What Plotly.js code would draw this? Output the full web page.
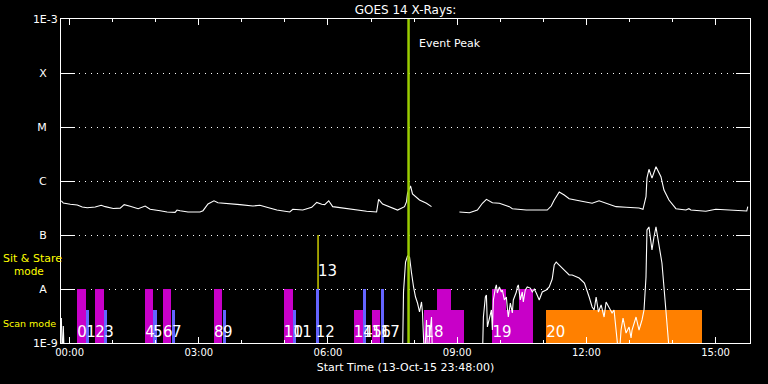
<!DOCTYPE html>
<html><head><meta charset="utf-8">
<script src="https://cdn.plot.ly/plotly-3.0.1.min.js"></script>
<style>html,body{margin:0;padding:0;background:#000;}#chart{width:768px;height:384px;}</style>
</head><body><div id="chart"></div>
<script>
// Times are hours relative to 2015-10-14 00:00 ; fluxes in W/m^2
const longHours = [
 -0.192,-0.146,0.016,0.178,0.294,0.410,0.595,0.734,0.827,1.013,
 1.175,1.267,1.406,1.592,1.754,1.870,2.101,2.264,2.449,2.495,
 2.565,2.750,3.028,3.098,3.214,3.353,3.445,3.654,3.955,4.256,
 4.419,4.581,4.812,5.113,5.183,5.415,5.623,5.739,5.855,5.924,
 6.017,6.109,6.434,6.666,6.897,7.129,7.176,7.268,7.431,7.616,
 7.778,7.824,7.847,7.917,7.963,8.125,8.288,8.404,
 8.700,
 9.052,9.284,9.470,9.586,9.679,9.818,9.980,10.212,10.281,10.606,
 11.092,11.184,11.254,11.370,11.486,11.601,11.833,12.134,12.296,12.458,
 12.690,12.922,13.223,13.315,13.385,13.408,13.454,13.524,13.617,13.732,
 13.802,13.918,14.080,14.312,14.381,14.427,14.775,15.006,15.238,15.539,
 15.725,15.748];
const longFlux = [
 4.3e-7,3.9e-7,3.7e-7,3.6e-7,3.3e-7,3.2e-7,3.3e-7,3.55e-7,3.35e-7,3.1e-7,
 3.15e-7,3.65e-7,3.4e-7,3.07e-7,3.44e-7,2.99e-7,2.82e-7,2.67e-7,2.63e-7,2.9e-7,
 2.82e-7,2.67e-7,2.67e-7,2.82e-7,3.75e-7,4.3e-7,3.96e-7,3.87e-7,3.65e-7,3.44e-7,
 3.55e-7,3.26e-7,2.9e-7,2.67e-7,2.99e-7,2.9e-7,3.26e-7,4.02e-7,3.7e-7,3.65e-7,
 4.3e-7,3.35e-7,3.07e-7,2.9e-7,2.75e-7,2.67e-7,4.58e-7,3.75e-7,3.35e-7,2.9e-7,
 3.35e-7,4.14e-7,5.92e-7,8.08e-7,5.75e-7,4.45e-7,3.87e-7,3.35e-7,
 null,
 2.67e-7,2.59e-7,2.9e-7,3.87e-7,4.58e-7,3.96e-7,3.87e-7,3.35e-7,3.07e-7,2.9e-7,
 2.9e-7,3.44e-7,4.45e-7,6.26e-7,5.5e-7,4.7e-7,4.3e-7,3.87e-7,4.3e-7,3.87e-7,
 3.35e-7,3.26e-7,3.16e-7,2.99e-7,5.12e-7,1.13e-6,1.65e-6,1.13e-6,1.84e-6,1.2e-6,
 6.81e-7,4.45e-7,3.07e-7,2.9e-7,3.07e-7,2.9e-7,2.75e-7,2.99e-7,2.9e-7,2.78e-7,
 2.78e-7,3.35e-7];

const shortHours = [
 -0.192,-0.169,-0.146,-0.123,7.730,7.754,7.801,7.847,7.894,7.917,
 7.940,7.987,8.033,8.079,8.126,8.172,8.195,8.218,8.242,8.288,
 8.311,8.404,8.427,9.586,9.609,9.655,9.679,9.702,9.748,9.795,
 9.818,9.841,9.887,9.910,9.933,9.980,10.026,10.049,10.096,10.142,
 10.165,10.188,10.235,10.281,10.304,10.374,10.397,10.420,10.466,10.512,
 10.536,10.582,10.628,10.698,10.744,10.790,10.837,10.906,10.976,11.068,
 11.138,11.207,11.254,11.300,11.370,11.439,11.532,11.601,11.671,11.833,
 11.955,12.018,12.065,12.134,12.181,12.227,12.280,12.343,12.412,12.458,
 12.528,12.597,12.643,12.690,12.713,12.759,12.806,12.852,12.922,12.992,
 13.038,13.061,13.154,13.223,13.293,13.339,13.385,13.408,13.454,13.501,
 13.524,13.570,13.617,13.640,13.686,13.755,13.802,13.848,13.895,13.941,
 15.772];
const shortFlux = [
 2.9e-9,5e-10,2.06e-9,5e-10,5e-10,8.8e-9,3.16e-8,4.09e-8,3.91e-8,2.56e-8,
 1.98e-8,1.09e-8,7.1e-9,5.5e-9,3.75e-9,5.75e-9,3.6e-9,1.29e-9,5e-10,2.67e-9,
 5e-10,3.03e-9,5e-10,5e-10,3.03e-9,7.1e-9,7.74e-9,1.98e-9,3.03e-9,4.09e-9,
 1.74e-9,6.26e-9,1.04e-8,1.19e-8,8.43e-9,1.09e-8,8.8e-9,9.58e-9,6.26e-9,7.1e-9,
 4.45e-9,3.03e-9,5.5e-9,3.6e-9,6.26e-9,8.8e-9,1.09e-8,1.19e-8,6.26e-9,8.8e-9,
 5.75e-9,9.58e-9,1.09e-8,1.04e-8,8.8e-9,1e-8,8.43e-9,6.26e-9,8.8e-9,9.58e-9,
 1.09e-8,1.53e-8,2.78e-8,3.16e-8,2.78e-8,2.45e-8,2.06e-8,1.82e-8,1.82e-8,1.6e-8,
 1.29e-8,9.58e-9,7.1e-9,4.64e-9,4.09e-9,7.1e-9,3.75e-9,5.06e-9,3.03e-9,5.75e-9,
 4.45e-9,3.6e-9,4.09e-9,1.98e-9,1.41e-9,5e-10,1.74e-9,2.9e-9,1.53e-9,1.98e-9,
 1.24e-9,1.74e-9,3.03e-9,1.74e-9,2.67e-9,4.09e-9,1.67e-8,1.24e-7,1.41e-7,8.08e-8,
 5.28e-8,9.18e-8,1.41e-7,1.09e-7,6.0e-8,3.03e-8,1.09e-8,4.09e-9,1.74e-9,5e-10,
 5e-10];

// Observation blocks (m = scan, b = blue, o = orange)
const obsStart = [0.178,0.387,0.595,0.804,1.754,1.939,2.171,2.379,3.353,3.561,
                  4.975,5.183,5.717,6.596,6.805,7.013,7.222,8.241,8.542,8.866,
                  9.818,10.142,10.443,11.068];
const obsEnd   = [0.387,0.456,0.804,0.874,1.939,2.032,2.356,2.449,3.538,3.630,
                  5.183,5.253,5.787,6.805,6.874,7.199,7.291,8.542,8.866,9.168,
                  10.142,10.443,10.767,14.682];
const obsTop   = [1e-8,4.1e-9,1e-8,4.1e-9,1e-8,4.1e-9,1e-8,4.1e-9,1e-8,4.1e-9,
                  1e-8,4.1e-9,1e-8,4.1e-9,1e-8,4.1e-9,1e-8,4.1e-9,1e-8,4.1e-9,
                  1e-8,4.1e-9,1e-8,4.1e-9];
const obsKind  = ['m','b','m','b','m','b','m','b','m','b',
                  'm','b','b','m','b','m','b','m','m','m',
                  'm','m','m','o'];
const obsLabel = ['0','1','2','3','4','5','6','7','8','9',
                  '10','11','12','14','15','16','17','18','','',
                  '19','','','20'];
const labelLevel = 1.53e-9;

const sitStareHour = 5.769;
const sitStareLow = 1e-8, sitStareHigh = 1e-7;
const sitStareLabel = '13';
const sitStareLabelLevel = 2.0e-8;

const peakHour = 7.871;

const yTickVals = [1e-9,1e-8,1e-7,1e-6,1e-5,1e-4,1e-3];
const yTickText = ['1E-9','A\u2002\u2002','B\u2002\u2002','C\u2002\u2002','M\u2002\u2002','X\u2002\u2002','1E-3'];

const axisStart = -0.2, axisEnd = 15.8;
const baseLevel = 1e-9;

function toDate(h){
  const ms = Date.UTC(2015,9,14) + Math.round(h*3600e3);
  return new Date(ms).toISOString().replace('T',' ').slice(0,19);
}

const kindColor = {m:'rgb(200,0,200)', b:'rgb(100,100,255)', o:'rgb(255,128,0)'};
const traces = [];
['m','b','o'].forEach(k=>{
  const idx = obsKind.map((v,i)=>v===k?i:-1).filter(i=>i>=0);
  traces.push({
    type:'bar',
    x: idx.map(i=>toDate((obsStart[i]+obsEnd[i])/2)),
    width: idx.map(i=>(obsEnd[i]-obsStart[i])*3600e3),
    base: idx.map(()=>baseLevel),
    y: idx.map(i=>obsTop[i]-baseLevel),
    marker:{color:kindColor[k], line:{width:0}},
    hoverinfo:'skip'
  });
});
traces.push({
  type:'scatter', mode:'lines',
  x:[toDate(sitStareHour),toDate(sitStareHour)], y:[sitStareLow,sitStareHigh],
  line:{color:'#ffff00', width:1.2}
});
traces.push({
  type:'scatter', mode:'lines',
  x: longHours.map(toDate), y: longFlux,
  line:{color:'#ffffff', width:1.1}, connectgaps:false
});
traces.push({
  type:'scatter', mode:'lines',
  x: shortHours.map(toDate), y: shortFlux,
  line:{color:'#ffffff', width:1.1}
});
traces.push({
  type:'scatter', mode:'lines',
  x:[toDate(peakHour),toDate(peakHour)], y:[1e-9,1e-3],
  line:{color:'#9acd00', width:2.5}
});
const labIdx = obsLabel.map((v,i)=>v?i:-1).filter(i=>i>=0);
traces.push({
  type:'scatter', mode:'text',
  x: labIdx.map(i=>toDate(obsStart[i])).concat([toDate(sitStareHour)]),
  y: labIdx.map(()=>labelLevel).concat([sitStareLabelLevel]),
  text: labIdx.map(i=>obsLabel[i]).concat([sitStareLabel]),
  textposition:'middle right',
  textfont:{family:'DejaVu Sans', size:15, color:'#ffffff'},
  cliponaxis:false
});

const layout = {
  width:768, height:384,
  paper_bgcolor:'#000', plot_bgcolor:'#000',
  margin:{l:61, r:18, t:19, b:41, pad:0},
  showlegend:false, hovermode:false, bargap:0, barmode:'overlay',
  font:{family:'DejaVu Sans', color:'#ffffff', size:11},
  title:{text:'GOES 14 X-Rays:', font:{family:'DejaVu Sans', size:12, color:'#ffffff'},
         x:0.5, xref:'paper', xanchor:'center', y:1-9.5/384, yref:'container', yanchor:'middle'},
  xaxis:{type:'date', range:[toDate(axisStart), toDate(axisEnd)],
    showline:true, linecolor:'#fff', linewidth:1, mirror:'ticks',
    ticks:'inside', ticklen:6, tickcolor:'#fff', tickwidth:1,
    dtick:3*3600e3, tick0:toDate(0), tickformat:'%H:%M',
    tickfont:{family:'DejaVu Sans', size:10, color:'#fff'},
    showgrid:false, zeroline:false,
    minor:{dtick:3600e3, tick0:toDate(0), ticks:'inside', ticklen:3, tickcolor:'#fff', tickwidth:1, showgrid:false},
    title:{text:'Start Time (13-Oct-15 23:48:00)', font:{family:'DejaVu Sans', size:11, color:'#fff'}, standoff:6}
  },
  yaxis:{type:'log', range:[-9,-3], tickmode:'array', tickvals:yTickVals, ticktext:yTickText,
    showline:true, linecolor:'#fff', linewidth:1, mirror:'ticks',
    ticks:'inside', ticklen:14, tickcolor:'#fff', tickwidth:1,
    showgrid:true, gridcolor:'#ffffff', griddash:'1px,5px', gridwidth:1,
    zeroline:false, tickfont:{family:'DejaVu Sans', size:11, color:'#fff'}
  },
  annotations:[
    {text:'Event Peak', xref:'x', yref:'paper', x:toDate(peakHour), y:(343-43)/324,
     xanchor:'left', yanchor:'middle', xshift:8, showarrow:false,
     font:{family:'DejaVu Sans', size:11, color:'#fff'}},
    {text:'Sit & Stare', xref:'paper', yref:'paper', x:(1-61)/689, y:(343-258)/324,
     xanchor:'left', yanchor:'middle', showarrow:false, font:{family:'DejaVu Sans', size:11, color:'#ffff00'}},
    {text:'mode', xref:'paper', yref:'paper', x:(12-61)/689, y:(343-271)/324,
     xanchor:'left', yanchor:'middle', showarrow:false, font:{family:'DejaVu Sans', size:10.5, color:'#ffff00'}},
    {text:'Scan mode', xref:'paper', yref:'paper', x:(1-61)/689, y:(343-323.5)/324,
     xanchor:'left', yanchor:'middle', showarrow:false, font:{family:'DejaVu Sans', size:9.5, color:'#ffff00'}}
  ]
};

Plotly.newPlot('chart', traces, layout, {staticPlot:true, displayModeBar:false});
</script>
</body></html>
